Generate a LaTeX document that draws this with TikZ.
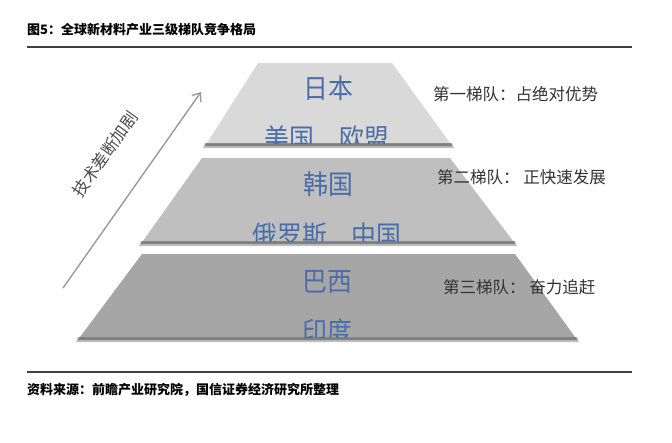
\documentclass[tikz,border=0pt]{standalone}
\usepackage{fontspec}
\newfontfamily\cjk{Noto Sans CJK SC}
\usetikzlibrary{arrows.meta}
\definecolor{tierA}{HTML}{D9D9D9}
\definecolor{tierB}{HTML}{BFBFBF}
\definecolor{tierC}{HTML}{A6A6A6}
\definecolor{ctext}{HTML}{4A6DA8}
\definecolor{ltext}{HTML}{333333}
\definecolor{rulec}{HTML}{404040}
\definecolor{arrc}{HTML}{9A9A9A}
\tikzset{
  country/.style={font=\cjk\fontsize{27}{30}\selectfont, text=ctext, inner sep=0pt, xscale=0.92},
  tierlabel/.style={font=\cjk\fontsize{16.5}{20}\selectfont, text=ltext, anchor=west, inner sep=0pt},
  capt/.style={font=\cjk\bfseries\fontsize{13}{16}\selectfont, text=black, anchor=west, inner sep=0pt},
  shadowdark/.style={fill=black!50, draw=none},
  shadowlight/.style={fill=black!25, draw=none}
}
\begin{document}
\begin{tikzpicture}[x=1pt,y=-1pt]
\useasboundingbox (0,0) rectangle (672,442);
\fill[white] (0,0) rectangle (672,442);
% title and rules
\node[capt] (title) at (27,30) {图5：全球新材料产业三级梯队竞争格局};
\draw[rulec, line width=1.2pt] (27,47) -- (632,47);
\draw[rulec, line width=1.2pt] (27,372) -- (632,372);
\node[capt] (source) at (27,390) {资料来源：前瞻产业研究院，国信证券经济研究所整理};
% shadows
\fill[shadowlight] (205,143) -- (452,143) -- (454,148) -- (203,148) -- cycle;
\fill[shadowdark] (206,143) -- (451,143) -- (452,146) -- (205,146) -- cycle;
\fill[shadowlight] (141,241) -- (515,241) -- (517,246) -- (139,246) -- cycle;
\fill[shadowdark] (142,241) -- (514,241) -- (515,244) -- (141,244) -- cycle;
\fill[shadowlight] (78,337) -- (577,337) -- (579,342) -- (76,342) -- cycle;
\fill[shadowdark] (79,337) -- (576,337) -- (577,340) -- (78,340) -- cycle;
% tier 1
\fill[tierA] (258,63) -- (392,63) -- (450,143) -- (207,143) -- cycle;
\begin{scope}
\clip (258,63) -- (392,63) -- (450,143) -- (207,143) -- cycle;
\node[country] (jp) at (328,88) {日本};
\node[country] (useu) at (327,138) {美国　欧盟};
\end{scope}
% tier 2
\fill[tierB] (202,158) -- (450,158) -- (513,241) -- (143,241) -- cycle;
\begin{scope}
\clip (202,158) -- (450,158) -- (513,241) -- (143,241) -- cycle;
\node[country] (kr) at (328,184) {韩国};
\node[country] (rucn) at (327,235) {俄罗斯　中国};
\end{scope}
% tier 3
\fill[tierC] (142,254) -- (515,254) -- (575,337) -- (80,337) -- cycle;
\begin{scope}
\clip (142,254) -- (515,254) -- (575,337) -- (80,337) -- cycle;
\node[country] (br) at (327,282) {巴西};
\node[country] (in) at (327,331) {印度};
\end{scope}
% right labels
\node[tierlabel] (l1) at (433,94) {第一梯队：占绝对优势};
\node[tierlabel] (l2) at (437,177) {第二梯队： 正快速发展};
\node[tierlabel] (l3) at (443,287) {第三梯队： 奋力追赶};
% arrow
\coordinate (atail) at (63,288);
\coordinate (ahead) at (201,92);
\draw[arrc, line width=1.4pt, -{Straight Barb[length=7pt,width=11pt]}] (atail) -- (ahead);
\node[font=\cjk\fontsize{16.5}{20}\selectfont, text=black!70, rotate=54.8, inner sep=0pt] (atext) at (105,154) {技术差断加剧};
\end{tikzpicture}
\end{document}
